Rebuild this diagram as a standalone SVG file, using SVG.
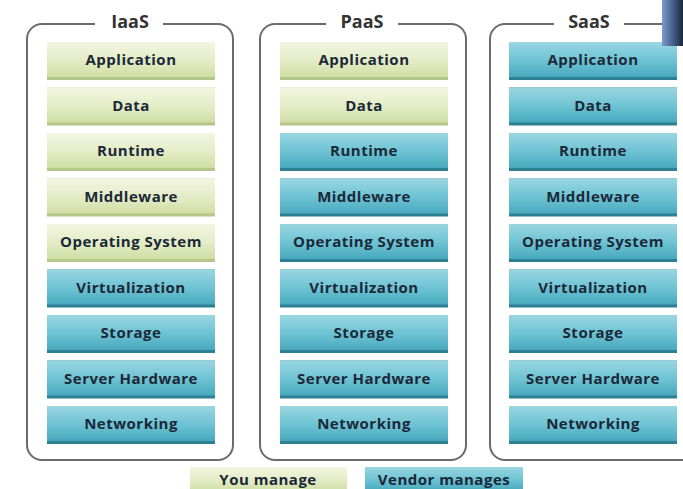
<svg xmlns="http://www.w3.org/2000/svg" width="683" height="489" viewBox="0 0 683 489">
<defs>
<linearGradient id="gG" x1="0" y1="0" x2="0" y2="1">
<stop offset="0" stop-color="#f3f6e2"/>
<stop offset="0.55" stop-color="#e3ecc5"/>
<stop offset="1" stop-color="#cfdea4"/>
</linearGradient>
<linearGradient id="gB" x1="0" y1="0" x2="0" y2="1">
<stop offset="0" stop-color="#9ad6e2"/>
<stop offset="0.55" stop-color="#6cc2d3"/>
<stop offset="1" stop-color="#48a9bd"/>
</linearGradient>
<linearGradient id="gC" x1="0" y1="0" x2="1" y2="0">
<stop offset="0" stop-color="#7d9bcc"/>
<stop offset="0.6" stop-color="#3d5580"/>
<stop offset="1" stop-color="#1c2740"/>
</linearGradient>
<style>
.frame{fill:#ffffff;stroke:#6b6b6b;stroke-width:2}
.title{font-family:"Open Sans","Liberation Sans",sans-serif;font-weight:700;font-size:18px;fill:#333333;text-anchor:middle}
.g{fill:url(#gG)}
.b{fill:url(#gB)}
.gs{fill:#b5c68a}
.bs{fill:#2d7f93}
.lbl{font-family:"Open Sans","Liberation Sans",sans-serif;font-weight:700;font-size:15px;letter-spacing:0.5px;fill:#1b2838;text-anchor:middle}
</style>
</defs>
<rect width="683" height="489" fill="#ffffff"/>

<g id="iaas">
<rect class="frame" x="27" y="24" width="206" height="436" rx="15"/>
<rect x="95" y="14" width="68" height="20" fill="#ffffff"/>
<text class="title" x="130" y="28">IaaS</text>
<g id="iaas-app"><rect class="gs" x="47" y="42" width="168" height="38"/><rect class="g" x="47" y="42" width="168" height="35"/><text class="lbl" x="131" y="65">Application</text></g>
<g id="iaas-data"><rect class="gs" x="47" y="87.5" width="168" height="38"/><rect class="g" x="47" y="87.5" width="168" height="35"/><text class="lbl" x="131" y="110.5">Data</text></g>
<g id="iaas-runtime"><rect class="gs" x="47" y="133" width="168" height="38"/><rect class="g" x="47" y="133" width="168" height="35"/><text class="lbl" x="131" y="156">Runtime</text></g>
<g id="iaas-middleware"><rect class="gs" x="47" y="178.5" width="168" height="38"/><rect class="g" x="47" y="178.5" width="168" height="35"/><text class="lbl" x="131" y="201.5">Middleware</text></g>
<g id="iaas-os"><rect class="gs" x="47" y="224" width="168" height="38"/><rect class="g" x="47" y="224" width="168" height="35"/><text class="lbl" x="131" y="247">Operating System</text></g>
<g id="iaas-virt"><rect class="bs" x="47" y="269.5" width="168" height="38"/><rect class="b" x="47" y="269.5" width="168" height="35"/><text class="lbl" x="131" y="292.5">Virtualization</text></g>
<g id="iaas-storage"><rect class="bs" x="47" y="315" width="168" height="38"/><rect class="b" x="47" y="315" width="168" height="35"/><text class="lbl" x="131" y="338">Storage</text></g>
<g id="iaas-server"><rect class="bs" x="47" y="360.5" width="168" height="38"/><rect class="b" x="47" y="360.5" width="168" height="35"/><text class="lbl" x="131" y="383.5">Server Hardware</text></g>
<g id="iaas-net"><rect class="bs" x="47" y="406" width="168" height="38"/><rect class="b" x="47" y="406" width="168" height="35"/><text class="lbl" x="131" y="429">Networking</text></g>
</g>

<g id="paas">
<rect class="frame" x="260" y="24" width="206" height="436" rx="15"/>
<rect x="326" y="14" width="72" height="20" fill="#ffffff"/>
<text class="title" x="362" y="28">PaaS</text>
<g id="paas-app"><rect class="gs" x="280" y="42" width="168" height="38"/><rect class="g" x="280" y="42" width="168" height="35"/><text class="lbl" x="364" y="65">Application</text></g>
<g id="paas-data"><rect class="gs" x="280" y="87.5" width="168" height="38"/><rect class="g" x="280" y="87.5" width="168" height="35"/><text class="lbl" x="364" y="110.5">Data</text></g>
<g id="paas-runtime"><rect class="bs" x="280" y="133" width="168" height="38"/><rect class="b" x="280" y="133" width="168" height="35"/><text class="lbl" x="364" y="156">Runtime</text></g>
<g id="paas-middleware"><rect class="bs" x="280" y="178.5" width="168" height="38"/><rect class="b" x="280" y="178.5" width="168" height="35"/><text class="lbl" x="364" y="201.5">Middleware</text></g>
<g id="paas-os"><rect class="bs" x="280" y="224" width="168" height="38"/><rect class="b" x="280" y="224" width="168" height="35"/><text class="lbl" x="364" y="247">Operating System</text></g>
<g id="paas-virt"><rect class="bs" x="280" y="269.5" width="168" height="38"/><rect class="b" x="280" y="269.5" width="168" height="35"/><text class="lbl" x="364" y="292.5">Virtualization</text></g>
<g id="paas-storage"><rect class="bs" x="280" y="315" width="168" height="38"/><rect class="b" x="280" y="315" width="168" height="35"/><text class="lbl" x="364" y="338">Storage</text></g>
<g id="paas-server"><rect class="bs" x="280" y="360.5" width="168" height="38"/><rect class="b" x="280" y="360.5" width="168" height="35"/><text class="lbl" x="364" y="383.5">Server Hardware</text></g>
<g id="paas-net"><rect class="bs" x="280" y="406" width="168" height="38"/><rect class="b" x="280" y="406" width="168" height="35"/><text class="lbl" x="364" y="429">Networking</text></g>
</g>

<g id="saas">
<rect class="frame" x="490" y="24" width="220" height="436" rx="15"/>
<rect x="554" y="14" width="70" height="20" fill="#ffffff"/>
<text class="title" x="589" y="28">SaaS</text>
<g id="saas-app"><rect class="bs" x="509" y="42" width="168" height="38"/><rect class="b" x="509" y="42" width="168" height="35"/><text class="lbl" x="593" y="65">Application</text></g>
<g id="saas-data"><rect class="bs" x="509" y="87.5" width="168" height="38"/><rect class="b" x="509" y="87.5" width="168" height="35"/><text class="lbl" x="593" y="110.5">Data</text></g>
<g id="saas-runtime"><rect class="bs" x="509" y="133" width="168" height="38"/><rect class="b" x="509" y="133" width="168" height="35"/><text class="lbl" x="593" y="156">Runtime</text></g>
<g id="saas-middleware"><rect class="bs" x="509" y="178.5" width="168" height="38"/><rect class="b" x="509" y="178.5" width="168" height="35"/><text class="lbl" x="593" y="201.5">Middleware</text></g>
<g id="saas-os"><rect class="bs" x="509" y="224" width="168" height="38"/><rect class="b" x="509" y="224" width="168" height="35"/><text class="lbl" x="593" y="247">Operating System</text></g>
<g id="saas-virt"><rect class="bs" x="509" y="269.5" width="168" height="38"/><rect class="b" x="509" y="269.5" width="168" height="35"/><text class="lbl" x="593" y="292.5">Virtualization</text></g>
<g id="saas-storage"><rect class="bs" x="509" y="315" width="168" height="38"/><rect class="b" x="509" y="315" width="168" height="35"/><text class="lbl" x="593" y="338">Storage</text></g>
<g id="saas-server"><rect class="bs" x="509" y="360.5" width="168" height="38"/><rect class="b" x="509" y="360.5" width="168" height="35"/><text class="lbl" x="593" y="383.5">Server Hardware</text></g>
<g id="saas-net"><rect class="bs" x="509" y="406" width="168" height="38"/><rect class="b" x="509" y="406" width="168" height="35"/><text class="lbl" x="593" y="429">Networking</text></g>
</g>

<rect x="662" y="0" width="21" height="46" fill="url(#gC)"/>

<g id="legend">
<g id="legend-you"><rect class="g" x="190" y="467" width="157" height="24"/><text class="lbl" x="268" y="485">You manage</text></g>
<g id="legend-vendor"><rect class="b" x="365" y="467" width="158" height="24"/><text class="lbl" x="444" y="485">Vendor manages</text></g>
</g>
<g id="connectors"/>
</svg>
